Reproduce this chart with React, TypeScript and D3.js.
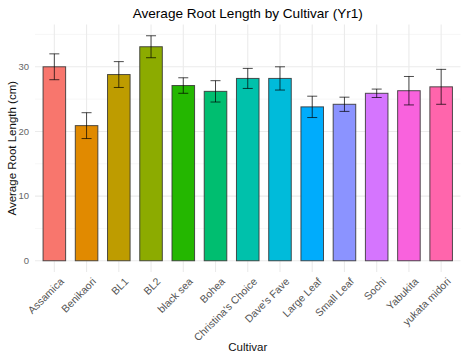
import React, { useEffect, useRef } from 'react';
import * as d3 from 'd3';

const cultivars = [
  'Assamica', 'Benikaori', 'BL1', 'BL2', 'black sea', 'Bohea', "Christina's Choice",
  "Dave's Fave", 'Large Leaf', 'Small Leaf', 'Sochi', 'Yabukita', 'yukata midori',
];
const meanLength = [30.0, 20.9, 28.8, 33.1, 27.1, 26.2, 28.2, 28.2, 23.8, 24.2, 25.9, 26.3, 26.9];
const errLength = [2.0, 2.0, 2.0, 1.7, 1.2, 1.65, 1.55, 1.8, 1.65, 1.1, 0.65, 2.2, 2.7];
const barColors = [
  '#F8766D', '#E18A00', '#BE9C00', '#8CAB00', '#24B700', '#00BE70', '#00C1AB',
  '#00BBDA', '#00ACFC', '#8B93FF', '#D575FE', '#F962DD', '#FF65AC',
];
const yTicks = [0, 10, 20, 30];
const yMinor = [5, 15, 25, 35];

const W = 466;
const H = 358;
const FONT = '"Liberation Sans", Arial, sans-serif';

export default function App() {
  const svgRef = useRef<SVGSVGElement>(null);

  useEffect(() => {
    if (!svgRef.current) return;
    const svg = d3.select(svgRef.current);
    svg.selectAll('*').remove();

    const left = 35, right = 460.5, top = 24.5, bottom = 272;

    const x = d3.scaleBand<string>()
      .domain(cultivars)
      .range([left, right])
      .paddingOuter(0.1)
      .paddingInner(0);
    const bw = x.bandwidth();
    const cx = (c: string) => (x(c) as number) + bw / 2;

    const yMax = 34.8;
    const pad = yMax * 0.05;
    const y = d3.scaleLinear().domain([-pad, yMax + pad]).range([bottom, top]);

    const g = svg.append('g');

    // grid
    g.selectAll('line.minor').data(yMinor).enter().append('line')
      .attr('x1', left).attr('x2', right)
      .attr('y1', d => y(d)).attr('y2', d => y(d))
      .attr('stroke', '#F2F2F2').attr('stroke-width', 0.6);
    g.selectAll('line.major').data(yTicks).enter().append('line')
      .attr('x1', left).attr('x2', right)
      .attr('y1', d => y(d)).attr('y2', d => y(d))
      .attr('stroke', '#EBEBEB').attr('stroke-width', 1.1);
    g.selectAll('line.vgrid').data(cultivars).enter().append('line')
      .attr('x1', d => cx(d)).attr('x2', d => cx(d))
      .attr('y1', top).attr('y2', bottom)
      .attr('stroke', '#EBEBEB').attr('stroke-width', 1.1);

    // bars
    const barW = bw * 0.7;
    g.selectAll('rect.bar').data(cultivars).enter().append('rect')
      .attr('x', d => cx(d) - barW / 2)
      .attr('width', barW)
      .attr('y', (d, i) => y(meanLength[i]))
      .attr('height', (d, i) => y(0) - y(meanLength[i]))
      .attr('fill', (d, i) => barColors[i])
      .attr('stroke', '#333333')
      .attr('stroke-opacity', 0.85)
      .attr('stroke-width', 1);

    // error bars
    const capW = 5;
    const eb = g.selectAll('g.err').data(cultivars).enter().append('g')
      .attr('stroke', '#000').attr('stroke-opacity', 0.7).attr('stroke-width', 1);
    eb.append('line')
      .attr('x1', d => cx(d)).attr('x2', d => cx(d))
      .attr('y1', (d, i) => y(meanLength[i] + errLength[i]))
      .attr('y2', (d, i) => y(meanLength[i] - errLength[i]));
    eb.append('line')
      .attr('x1', d => cx(d) - capW).attr('x2', d => cx(d) + capW)
      .attr('y1', (d, i) => y(meanLength[i] + errLength[i]))
      .attr('y2', (d, i) => y(meanLength[i] + errLength[i]));
    eb.append('line')
      .attr('x1', d => cx(d) - capW).attr('x2', d => cx(d) + capW)
      .attr('y1', (d, i) => y(meanLength[i] - errLength[i]))
      .attr('y2', (d, i) => y(meanLength[i] - errLength[i]));

    // y tick labels
    g.selectAll('text.ytick').data(yTicks).enter().append('text')
      .attr('x', left - 6).attr('y', d => y(d))
      .attr('dy', '0.35em')
      .attr('text-anchor', 'end')
      .style('font-family', FONT).style('font-size', '9.5px')
      .attr('fill', '#666666')
      .text(d => d);

    // x tick labels
    g.selectAll('text.xtick').data(cultivars).enter().append('text')
      .attr('transform', d => `translate(${cx(d) + 5},${bottom + 5}) rotate(-45)`)
      .attr('text-anchor', 'end')
      .attr('dy', '0.7em')
      .style('font-family', FONT).style('font-size', '10.5px')
      .attr('fill', '#555555')
      .text(d => d);

    // titles
    svg.append('text')
      .attr('x', (left + right) / 2).attr('y', 18)
      .attr('text-anchor', 'middle')
      .style('font-family', FONT).style('font-size', '13.6px')
      .attr('fill', '#000')
      .text('Average Root Length by Cultivar (Yr1)');

    svg.append('text')
      .attr('x', (left + right) / 2).attr('y', 351)
      .attr('text-anchor', 'middle')
      .style('font-family', FONT).style('font-size', '11.5px')
      .attr('fill', '#111')
      .text('Cultivar');

    svg.append('text')
      .attr('transform', `translate(16,${(top + bottom) / 2}) rotate(-90)`)
      .attr('text-anchor', 'middle')
      .style('font-family', FONT).style('font-size', '11.5px')
      .attr('fill', '#111')
      .text('Average Root Length (cm)');
  }, []);

  return (
    <svg
      ref={svgRef}
      width={W}
      height={H}
      style={{ position: 'absolute', left: 0, top: 0, background: '#fff' }}
    />
  );
}
